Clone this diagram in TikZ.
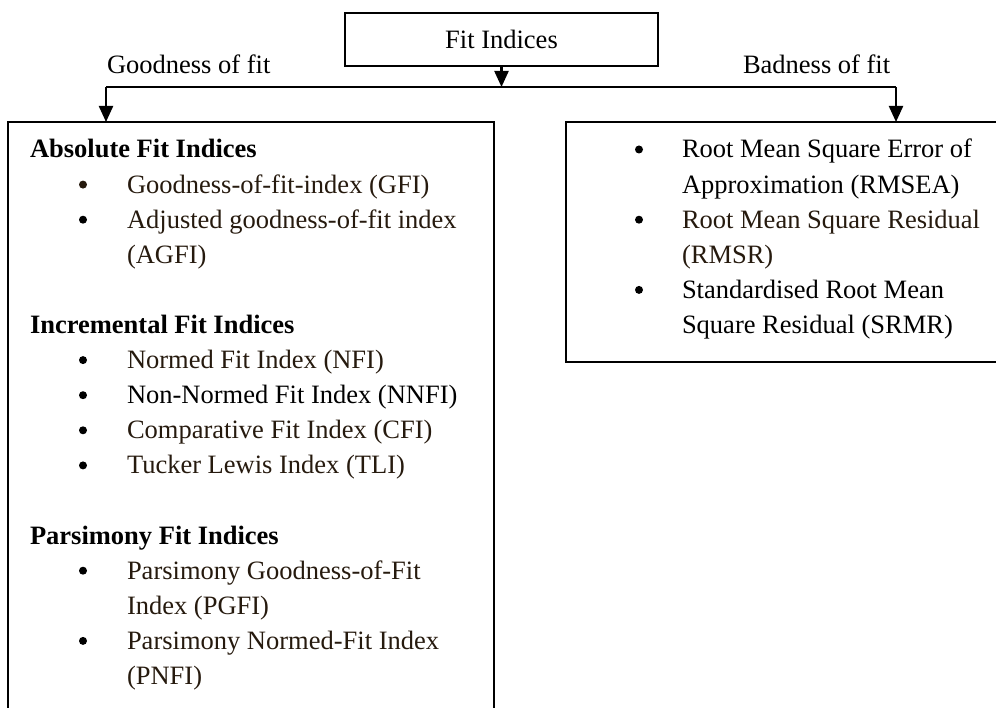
\documentclass[tikz,border=0pt]{standalone}
\usepackage{fontspec}
\setmainfont{Liberation Serif}
\usetikzlibrary{arrows.meta}
\definecolor{itembrown}{RGB}{38,26,14}

\begin{document}
\begin{tikzpicture}[x=1pt,y=-1pt,
  every node/.style={font=\fontsize{26.5}{35}\selectfont, inner sep=0pt, outer sep=0pt},
  panel/.style={draw, line width=1.6pt},
  link/.style={line width=2.2pt},
  arrowlink/.style={link, -{Triangle[width=14pt,length=16pt]}},
  heading/.style={anchor=base west, font=\fontsize{26.5}{35}\selectfont\bfseries},
  entry/.style={anchor=base west},
  dot/.style={circle, fill, minimum size=8pt, inner sep=0pt},
]
% page frame; the two lower panels run past its edges
\useasboundingbox (0,0) rectangle (996,708);
\clip (0,0) rectangle (996,708);

% panels
\node[panel, anchor=north west, minimum width=313pt, minimum height=53pt] (root) at (345,13) {Fit Indices};
\node[panel, anchor=north west, minimum width=486pt, minimum height=640pt] (good) at (8,122) {};
\node[panel, anchor=north west, minimum width=460pt, minimum height=240pt] (bad) at (566,122) {};

% connectors
\coordinate (junc) at (501.5,87);
\coordinate (gl) at (106,87);
\coordinate (gr) at (896,87);
\draw[arrowlink] (root.south) -- (junc);
\draw[link] (gl) -- (gr);
\draw[arrowlink] (gl) -- (gl |- good.north);
\draw[arrowlink] (gr) -- (gr |- bad.north);

% branch labels
\node[entry] (glab) at (107,74) {Goodness of fit};
\node[entry] (blab) at (743,74) {Badness of fit};

% goodness-of-fit panel contents
\def\ls{35.1}
\node[heading] (h1) at (30,158) {Absolute Fit Indices};
\node[dot, itembrown] (b1) at (83,158+1*\ls-8.5) {};
\node[entry, itembrown] (t1) at (127,158+1*\ls) {Goodness-of-fit-index (GFI)};
\node[dot] (b2) at (83,158+2*\ls-8.5) {};
\node[entry, itembrown] (t2) at (127,158+2*\ls) {Adjusted goodness-of-fit index};
\node[entry, itembrown] (t2b) at (127,158+3*\ls) {(AGFI)};

\node[heading] (h2) at (30,158+5*\ls) {Incremental Fit Indices};
\node[dot] (b3) at (83,158+6*\ls-8.5) {};
\node[entry, itembrown] (t3) at (127,158+6*\ls) {Normed Fit Index (NFI)};
\node[dot] (b4) at (83,158+7*\ls-8.5) {};
\node[entry] (t4) at (127,158+7*\ls) {Non-Normed Fit Index (NNFI)};
\node[dot] (b5) at (83,158+8*\ls-8.5) {};
\node[entry, itembrown] (t5) at (127,158+8*\ls) {Comparative Fit Index (CFI)};
\node[dot] (b6) at (83,158+9*\ls-8.5) {};
\node[entry, itembrown] (t6) at (127,158+9*\ls) {Tucker Lewis Index (TLI)};

\node[heading] (h3) at (30,158+11*\ls) {Parsimony Fit Indices};
\node[dot] (b7) at (83,158+12*\ls-8.5) {};
\node[entry, itembrown] (t7) at (127,158+12*\ls) {Parsimony Goodness-of-Fit};
\node[entry, itembrown] (t7b) at (127,158+13*\ls) {Index (PGFI)};
\node[dot] (b8) at (83,158+14*\ls-8.5) {};
\node[entry, itembrown] (t8) at (127,158+14*\ls) {Parsimony Normed-Fit Index};
\node[entry, itembrown] (t8b) at (127,158+15*\ls) {(PNFI)};

% badness-of-fit panel contents
\node[dot] (r1) at (639,158-8.5) {};
\node[entry] (s1) at (682,158) {Root Mean Square Error of};
\node[entry] (s1b) at (682,158+1*\ls) {Approximation (RMSEA)};
\node[dot] (r2) at (639,158+2*\ls-8.5) {};
\node[entry, itembrown] (s2) at (682,158+2*\ls) {Root Mean Square Residual};
\node[entry, itembrown] (s2b) at (682,158+3*\ls) {(RMSR)};
\node[dot] (r3) at (639,158+4*\ls-8.5) {};
\node[entry] (s3) at (682,158+4*\ls) {Standardised Root Mean};
\node[entry] (s3b) at (682,158+5*\ls) {Square Residual (SRMR)};
\end{tikzpicture}
\end{document}
